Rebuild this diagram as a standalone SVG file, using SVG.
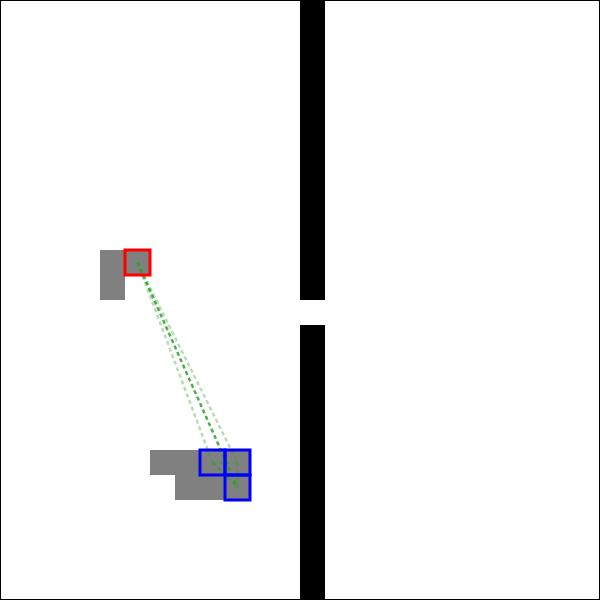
<svg xmlns="http://www.w3.org/2000/svg" width="600" height="600" viewBox="0 0 600 600">
<style>
.cell{fill:#808080}
.wall{fill:#000}
.start{fill:none;stroke:#ff0000;stroke-width:3}
.goal{fill:none;stroke:#0000ff;stroke-width:3}
.path{fill:none;stroke:#2ca02c;stroke-width:2.5;stroke-dasharray:4 3;stroke-linecap:butt}
.faint{stroke-opacity:0.35}
.mid{stroke-opacity:0.6}
.dark{stroke-opacity:0.85}
</style>
<rect x="0" y="0" width="600" height="600" fill="#fff"/>
<g id="walls">
<rect class="wall" x="300" y="0" width="25" height="300"/>
<rect class="wall" x="300" y="325" width="25" height="275"/>
</g>
<g id="occupied">
<rect class="cell" x="100" y="250" width="25" height="50"/>
<rect class="cell" x="125" y="250" width="25" height="25"/>
<rect class="cell" x="150" y="450" width="100" height="25"/>
<rect class="cell" x="175" y="475" width="75" height="25"/>
</g>
<g id="connectors">
<line class="path faint" x1="137.5" y1="262.5" x2="212.5" y2="462.5"/>
<line class="path faint" x1="137.5" y1="262.5" x2="237.5" y2="462.5"/>
<line class="path dark" x1="137.5" y1="262.5" x2="237.5" y2="487.5"/>
<line class="path faint" x1="212.5" y1="462.5" x2="237.5" y2="462.5"/>
<line class="path faint" x1="237.5" y1="462.5" x2="237.5" y2="487.5"/>
<line class="path mid" x1="212.5" y1="462.5" x2="237.5" y2="487.5"/>
</g>
<g id="start">
<rect class="start" x="125" y="250" width="25" height="25"/>
</g>
<g id="goal1"><rect class="goal" x="200" y="450" width="25" height="25"/></g>
<g id="goal2"><rect class="goal" x="225" y="450" width="25" height="25"/></g>
<g id="goal3"><rect class="goal" x="225" y="475" width="25" height="25"/></g>
<rect x="0.5" y="0.5" width="599" height="599" fill="none" stroke="#000" stroke-width="1"/>
</svg>
